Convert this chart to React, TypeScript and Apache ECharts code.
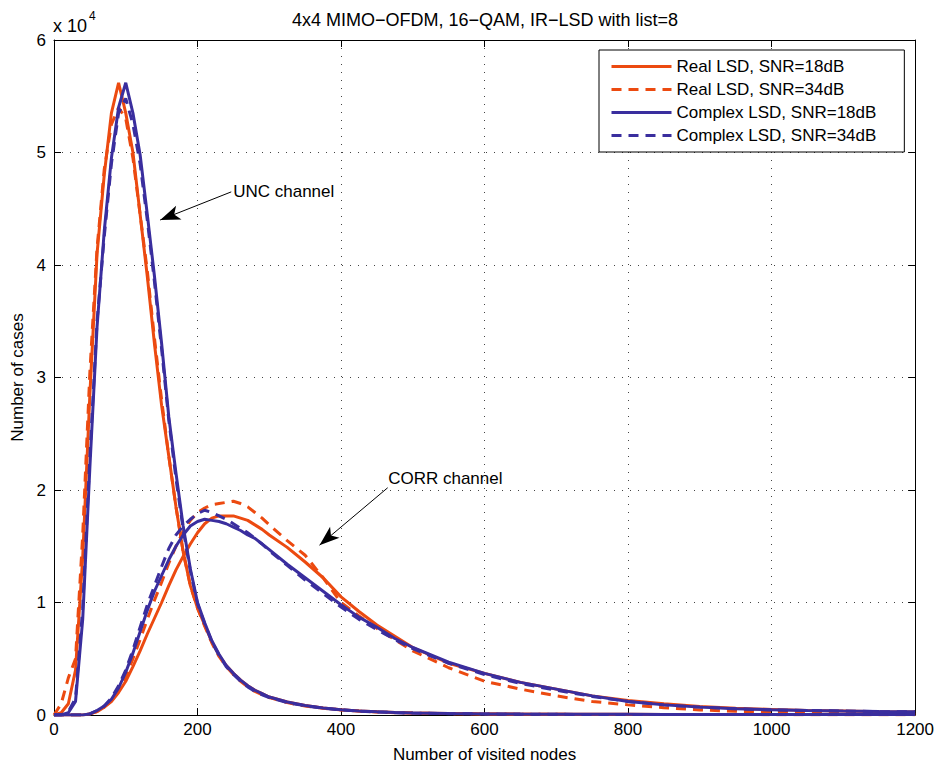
import React, { useEffect, useRef } from "react";
import * as echarts from "echarts";

// Number of visited nodes (x)
const xNodes = [
  0, 10, 20, 30, 40, 50, 60, 70, 80, 90,
  100, 110, 120, 130, 140, 150, 160, 170, 180, 190,
  200, 210, 220, 230, 240, 250, 260, 270, 280, 290,
  300,
  325, 350, 375, 400, 425, 450, 475, 500,
  550, 600, 650, 700, 750, 800, 850, 900, 950, 1000, 1050, 1100, 1150, 1200,
];

// Number of cases (x 10^4) — UNC channel
const realUnc18 = [
  0, 0.02, 0.1, 0.4, 1.4, 2.85, 4.1, 4.8, 5.35, 5.62,
  5.35, 5.0, 4.45, 3.9, 3.3, 2.75, 2.3, 1.85, 1.45, 1.15,
  0.95, 0.8, 0.65, 0.53, 0.44, 0.37, 0.31, 0.26, 0.22, 0.19,
  0.16,
  0.115, 0.085, 0.062, 0.047, 0.036, 0.028, 0.022, 0.018,
  0.013, 0.01, 0.008, 0.007, 0.006, 0.006, 0.005, 0.005, 0.005, 0.004, 0.004, 0.004, 0.004, 0.004,
];
const realUnc34 = [
  0, 0.1, 0.33, 0.5, 1.6, 3.05, 4.15, 4.85, 5.25, 5.4,
  5.3, 4.95, 4.45, 3.95, 3.35, 2.8, 2.3, 1.85, 1.45, 1.15,
  0.95, 0.79, 0.64, 0.52, 0.43, 0.36, 0.3, 0.25, 0.21, 0.18,
  0.155,
  0.11, 0.08, 0.06, 0.045, 0.035, 0.027, 0.021, 0.017,
  0.012, 0.009, 0.007, 0.006, 0.005, 0.005, 0.004, 0.004, 0.004, 0.003, 0.003, 0.003, 0.003, 0.003,
];
const cplxUnc18 = [
  0, 0, 0.02, 0.12, 0.85, 2.2, 3.45, 4.3, 4.95, 5.4,
  5.62, 5.35, 4.98, 4.45, 3.9, 3.3, 2.65, 2.15, 1.68, 1.3,
  1.0, 0.82, 0.66, 0.54, 0.44, 0.37, 0.31, 0.26, 0.22, 0.19,
  0.16,
  0.115, 0.085, 0.062, 0.047, 0.036, 0.028, 0.022, 0.018,
  0.013, 0.01, 0.008, 0.007, 0.006, 0.006, 0.005, 0.005, 0.005, 0.005, 0.005, 0.005, 0.005, 0.005,
];
const cplxUnc34 = [
  0, 0, 0.03, 0.15, 0.95, 2.3, 3.5, 4.25, 4.9, 5.35,
  5.48, 5.25, 4.9, 4.4, 3.85, 3.25, 2.62, 2.1, 1.65, 1.28,
  0.99, 0.81, 0.65, 0.53, 0.43, 0.36, 0.3, 0.25, 0.21, 0.18,
  0.155,
  0.11, 0.082, 0.06, 0.045, 0.035, 0.027, 0.021, 0.017,
  0.012, 0.009, 0.007, 0.006, 0.005, 0.005, 0.005, 0.004, 0.004, 0.004, 0.004, 0.004, 0.004, 0.004,
];

// Number of cases (x 10^4) — CORR channel
const realCorr18 = [
  0, 0, 0, 0, 0, 0.01, 0.03, 0.07, 0.12, 0.2,
  0.3, 0.43, 0.57, 0.72, 0.86, 1.0, 1.15, 1.29, 1.41, 1.52,
  1.62, 1.7, 1.75, 1.77, 1.77, 1.77, 1.75, 1.73, 1.69, 1.65,
  1.6,
  1.49, 1.36, 1.22, 1.05, 0.92, 0.8, 0.7, 0.6,
  0.46, 0.37, 0.29, 0.23, 0.17, 0.13, 0.1, 0.075, 0.06, 0.05, 0.04, 0.035, 0.03, 0.027,
];
const realCorr34 = [
  0, 0, 0, 0, 0, 0.01, 0.03, 0.07, 0.13, 0.22,
  0.34, 0.5, 0.67, 0.85, 1.02, 1.18, 1.35, 1.5, 1.63, 1.73,
  1.8, 1.84, 1.87, 1.88, 1.89, 1.9, 1.88, 1.85, 1.8, 1.75,
  1.69,
  1.55, 1.42, 1.22, 1.0, 0.88, 0.77, 0.67, 0.57,
  0.42, 0.3, 0.23, 0.17, 0.12, 0.09, 0.065, 0.045, 0.033, 0.025, 0.018, 0.012, 0.007, 0.004,
];
const cplxCorr18 = [
  0, 0, 0, 0, 0, 0.01, 0.04, 0.08, 0.14, 0.24,
  0.38, 0.55, 0.74, 0.93, 1.1, 1.24, 1.38, 1.5, 1.6, 1.68,
  1.72, 1.74, 1.73, 1.72, 1.7, 1.67, 1.64, 1.6, 1.57, 1.52,
  1.47,
  1.34, 1.22, 1.1, 0.98, 0.87, 0.78, 0.68, 0.6,
  0.47, 0.37, 0.29, 0.23, 0.17, 0.12, 0.09, 0.07, 0.055, 0.047, 0.04, 0.035, 0.032, 0.03,
];
const cplxCorr34 = [
  0, 0, 0, 0, 0, 0.01, 0.04, 0.08, 0.15, 0.26,
  0.4, 0.58, 0.78, 0.98, 1.15, 1.32, 1.48, 1.6, 1.68, 1.74,
  1.79, 1.82, 1.8, 1.77, 1.74, 1.7, 1.66, 1.62, 1.57, 1.52,
  1.46,
  1.33, 1.2, 1.08, 0.96, 0.85, 0.76, 0.67, 0.59,
  0.46, 0.36, 0.28, 0.22, 0.165, 0.12, 0.09, 0.07, 0.055, 0.045, 0.04, 0.035, 0.03, 0.028,
];

const seriesNames = [
  "Real LSD, SNR=18dB",
  "Real LSD, SNR=34dB",
  "Complex LSD, SNR=18dB",
  "Complex LSD, SNR=34dB",
];

// Annotations (data coordinates)
const uncLabel = { text: "UNC channel", at: [249, 4.65], from: [247, 4.65], to: [148, 4.4] };
const corrLabel = { text: "CORR channel", at: [465, 2.1], from: [465, 2.02], to: [370, 1.51] };

const RED = "#EC4A10";
const BLUE = "#3A2E9E";
const FONT = "'Liberation Sans', Arial, Helvetica, sans-serif";

const pairs = (ys: number[]) => xNodes.map((x, i) => [x, ys[i]]);

export default function App() {
  const ref = useRef<HTMLDivElement>(null);

  useEffect(() => {
    const chart = echarts.init(ref.current!, undefined, { renderer: "svg" });

    const mk = (name: string, ys: number[], color: string, dashed: boolean, extra: any = {}) => ({
      type: "line",
      name,
      data: pairs(ys),
      showSymbol: false,
      symbol: "none",
      lineStyle: { color, width: 3, type: dashed ? [10, 7] : "solid" },
      itemStyle: { color },
      z: 2,
      ...extra,
    });

    const arrowEnd = (p: number[]) => ({ coord: p, symbol: "arrow", symbolSize: [11, 20] });
    const arrowStart = (p: number[]) => ({ coord: p, symbol: "none" });

    const axisNameStyle = { fontSize: 17, color: "#000", fontFamily: FONT };

    const option: any = {
      animation: false,
      backgroundColor: "#fff",
      textStyle: { fontFamily: FONT },
      grid: { left: 54, right: 21, top: 40, bottom: 48, containLabel: false },
      legend: {
        orient: "vertical",
        left: 599,
        top: 50,
        data: seriesNames,
        itemWidth: 60,
        itemHeight: 14,
        itemGap: 6,
        padding: [8, 28, 8, 11],
        backgroundColor: "#fff",
        borderColor: "#000",
        borderWidth: 1,
        selectedMode: false,
        itemStyle: { opacity: 0 },
        lineStyle: { width: 3 },
        textStyle: { fontSize: 17, color: "#000", fontFamily: FONT, lineHeight: 14 },
      },
      xAxis: [
        {
          type: "value",
          min: 0,
          max: 1200,
          interval: 200,
          position: "bottom",
          name: "Number of visited nodes",
          nameLocation: "middle",
          nameGap: 31,
          nameTextStyle: axisNameStyle,
          axisLine: { show: true, onZero: false, lineStyle: { color: "#000", width: 1 } },
          axisTick: { show: true, inside: true, length: 7, lineStyle: { color: "#000" } },
          axisLabel: {
            color: "#000",
            fontSize: 17,
            margin: 6,
            fontFamily: FONT,
            formatter: (v: number) => String(v),
          },
          splitLine: { show: true, lineStyle: { color: "#444", width: 1, type: [1, 7] } },
        },
        {
          type: "value",
          min: 0,
          max: 1200,
          interval: 200,
          position: "top",
          axisLine: { show: true, onZero: false, lineStyle: { color: "#000", width: 1 } },
          axisTick: { show: true, inside: true, length: 7, lineStyle: { color: "#000" } },
          axisLabel: { show: false },
          splitLine: { show: false },
        },
      ],
      yAxis: [
        {
          type: "value",
          min: 0,
          max: 6,
          interval: 1,
          position: "left",
          name: "Number of cases",
          nameLocation: "middle",
          nameGap: 28,
          nameTextStyle: axisNameStyle,
          axisLine: { show: true, onZero: false, lineStyle: { color: "#000", width: 1 } },
          axisTick: { show: true, inside: true, length: 7, lineStyle: { color: "#000" } },
          axisLabel: {
            color: "#000",
            fontSize: 17,
            margin: 8,
            fontFamily: FONT,
            formatter: (v: number) => String(v),
          },
          splitLine: { show: true, lineStyle: { color: "#444", width: 1, type: [1, 7] } },
        },
        {
          type: "value",
          min: 0,
          max: 6,
          interval: 1,
          position: "right",
          axisLine: { show: true, onZero: false, lineStyle: { color: "#000", width: 1 } },
          axisTick: { show: true, inside: true, length: 7, lineStyle: { color: "#000" } },
          axisLabel: { show: false },
          splitLine: { show: false },
        },
      ],
      series: [
        mk(seriesNames[0], realUnc18, RED, false, {
          markLine: {
            silent: true,
            animation: false,
            lineStyle: { color: "#000", width: 1, type: "solid" },
            label: { show: false },
            emphasis: { disabled: true },
            data: [
              [arrowStart(uncLabel.from), arrowEnd(uncLabel.to)],
              [arrowStart(corrLabel.from), arrowEnd(corrLabel.to)],
            ],
          },
          markPoint: {
            silent: true,
            animation: false,
            symbol: "rect",
            symbolSize: 1,
            itemStyle: { color: "rgba(0,0,0,0)" },
            label: {
              show: true,
              position: "right",
              distance: 0,
              color: "#000",
              fontSize: 17,
              fontFamily: FONT,
              formatter: (p: any) => p.name,
            },
            data: [
              { name: uncLabel.text, coord: uncLabel.at },
              { name: corrLabel.text, coord: corrLabel.at },
            ],
          },
        }),
        mk(seriesNames[0], realCorr18, RED, false),
        mk(seriesNames[1], realUnc34, RED, true),
        mk(seriesNames[1], realCorr34, RED, true),
        mk(seriesNames[2], cplxUnc18, BLUE, false),
        mk(seriesNames[2], cplxCorr18, BLUE, false),
        mk(seriesNames[3], cplxUnc34, BLUE, true),
        mk(seriesNames[3], cplxCorr34, BLUE, true),
      ],
      graphic: [
        {
          type: "text",
          x: 485,
          y: 20,
          style: {
            text: "4x4 MIMO\u2212OFDM, 16\u2212QAM, IR\u2212LSD with list=8",
            textAlign: "center",
            textVerticalAlign: "middle",
            fontSize: 18,
            fontFamily: FONT,
            fill: "#000",
          },
        },
        {
          type: "text",
          x: 53,
          y: 26,
          style: {
            text: "x 10",
            textAlign: "left",
            textVerticalAlign: "middle",
            fontSize: 18,
            fontFamily: FONT,
            fill: "#000",
          },
        },
        {
          type: "text",
          x: 89,
          y: 16,
          style: {
            text: "4",
            textAlign: "left",
            textVerticalAlign: "middle",
            fontSize: 12,
            fontFamily: FONT,
            fill: "#000",
          },
        },
      ],
    };

    chart.setOption(option);
    return () => chart.dispose();
  }, []);

  return (
    <div
      ref={ref}
      style={{ position: "fixed", left: 0, top: 0, width: 937, height: 768, background: "#fff" }}
    />
  );
}
